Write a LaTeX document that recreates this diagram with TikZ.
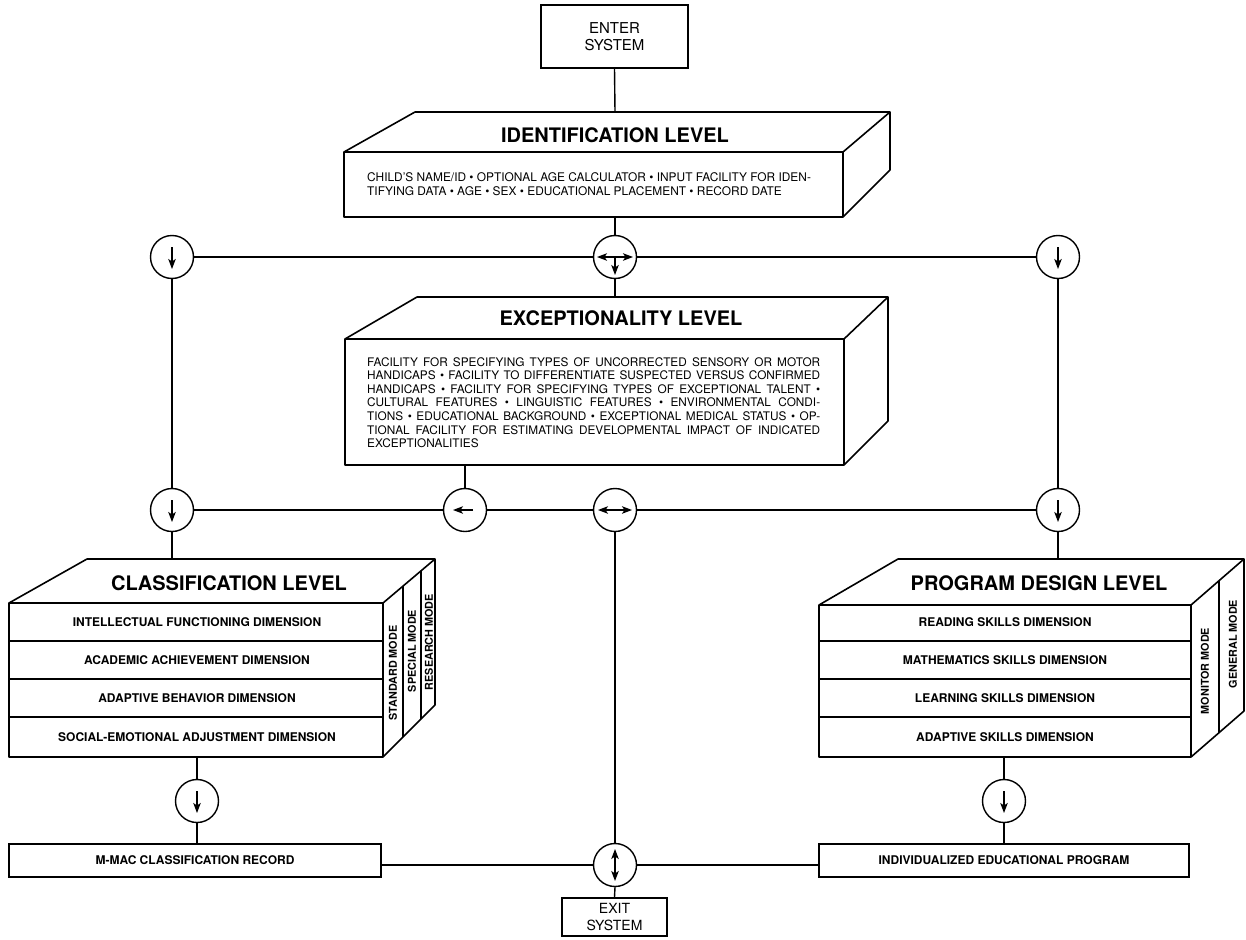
\documentclass[tikz,border=0pt]{standalone}
\usepackage{fontspec}
\setmainfont{TeX Gyre Heros}
\usetikzlibrary{arrows.meta}
\begin{document}
\begin{tikzpicture}[x=1pt,y=-1pt,
  >={Stealth[length=10pt,width=7.5pt,inset=2.5pt]},
  box/.style={draw, line width=1.6pt, line join=round},
  lnk/.style={line width=1.4pt},
  circ/.style={circle, draw, line width=1.4pt, minimum size=43pt, inner sep=0pt},
  arr/.style={line width=1.2pt, ->},
  darr/.style={line width=1.2pt, <->},
  ttl/.style={inner sep=0pt, anchor=base, font=\bfseries\fontsize{20}{24}\selectfont},
  rowtxt/.style={inner sep=0pt, font=\bfseries\fontsize{12}{14}\selectfont},
  modetxt/.style={inner sep=0pt, rotate=90, font=\bfseries\fontsize{10.8}{12}\selectfont},
  sysbox/.style={draw, line width=1.6pt, inner sep=0pt, align=center},
  recbox/.style={draw, line width=2.8pt, inner sep=0pt, font=\bfseries\fontsize{12}{14}\selectfont},
]
\useasboundingbox (0,0) rectangle (1246,939);

% ---------- enter / exit ----------
\node[sysbox, minimum width=147pt, minimum height=63pt, font=\fontsize{15}{17}\selectfont] (enter) at (614.5,36.5) {ENTER\\SYSTEM};
\node[sysbox, minimum width=105pt, minimum height=38pt, font=\fontsize{14}{17}\selectfont] (exit) at (614.5,917) {EXIT\\SYSTEM};

% ---------- identification level ----------
\draw[box] (344,152) -- (415,112) -- (890,112) -- (890,170) -- (843,217) -- (344,217) -- cycle;
\draw[box] (344,152) -- (843,152) -- (890,112);
\draw[box] (843,152) -- (843,217);
\coordinate (idtop) at (615,112);
\coordinate (idbot) at (615,217);
\node[ttl] (idttl) at (615,142) {IDENTIFICATION LEVEL};
\node[inner sep=0pt, anchor=base west] (idtxt) at (367,181) {\parbox[t]{520pt}{\raggedright\fontsize{11.9}{14}\selectfont
CHILD’S NAME/ID \textbullet{} OPTIONAL AGE CALCULATOR \textbullet{} INPUT FACILITY FOR IDEN-\\
TIFYING DATA \textbullet{} AGE \textbullet{} SEX \textbullet{} EDUCATIONAL PLACEMENT \textbullet{} RECORD DATE}};

% ---------- exceptionality level ----------
\draw[box] (345,339) -- (417,297) -- (888,297) -- (888,421) -- (844,465) -- (345,465) -- cycle;
\draw[box] (345,339) -- (844,339) -- (888,297);
\draw[box] (844,339) -- (844,465);
\coordinate (extop) at (615,297);
\coordinate (exbot) at (465,465);
\node[ttl] (exttl) at (621,325) {EXCEPTIONALITY LEVEL};
\node[inner sep=0pt, anchor=base west] (extxt) at (367,366) {\parbox[t]{453pt}{\fontsize{11.8}{13.6}\selectfont
\makebox[\linewidth][s]{FACILITY FOR SPECIFYING TYPES OF UNCORRECTED SENSORY OR MOTOR}\\
\makebox[\linewidth][s]{HANDICAPS \textbullet{} FACILITY TO DIFFERENTIATE SUSPECTED VERSUS CONFIRMED}\\
\makebox[\linewidth][s]{HANDICAPS \textbullet{} FACILITY FOR SPECIFYING TYPES OF EXCEPTIONAL TALENT \textbullet}\\
\makebox[\linewidth][s]{CULTURAL FEATURES \textbullet{} LINGUISTIC FEATURES \textbullet{} ENVIRONMENTAL CONDI-}\\
\makebox[\linewidth][s]{TIONS \textbullet{} EDUCATIONAL BACKGROUND \textbullet{} EXCEPTIONAL MEDICAL STATUS \textbullet{} OP-}\\
\makebox[\linewidth][s]{TIONAL FACILITY FOR ESTIMATING DEVELOPMENTAL IMPACT OF INDICATED}\\
EXCEPTIONALITIES}};

% ---------- classification level ----------
\draw[box] (9,603) -- (87,559) -- (435,559) -- (435,705) -- (383,757) -- (9,757) -- cycle;
\draw[box] (9,603) -- (383,603) -- (435,559);
\draw[box] (383,603) -- (383,757);
\draw[box] (9,641) -- (383,641);
\draw[box] (9,679) -- (383,679);
\draw[box] (9,717) -- (383,717);
\draw[box] (403,586) -- (403,737);
\draw[box] (421,571) -- (421,719);
\coordinate (cltop) at (172,559);
\coordinate (clbot) at (197,757);
\node[ttl] (clttl) at (229,590) {CLASSIFICATION LEVEL};
\node[rowtxt] (cl1) at (197,622) {INTELLECTUAL FUNCTIONING DIMENSION};
\node[rowtxt] (cl2) at (197,660) {ACADEMIC ACHIEVEMENT DIMENSION};
\node[rowtxt] (cl3) at (197,698) {ADAPTIVE BEHAVIOR DIMENSION};
\node[rowtxt] (cl4) at (197,737) {SOCIAL-EMOTIONAL ADJUSTMENT DIMENSION};
\node[modetxt] (clm1) at (393,673) {STANDARD MODE};
\node[modetxt] (clm2) at (412,651) {SPECIAL MODE};
\node[modetxt] (clm3) at (429,642) {RESEARCH MODE};

% ---------- program design level ----------
\draw[box] (819,605) -- (898,559) -- (1244,559) -- (1244,711) -- (1191,757) -- (819,757) -- cycle;
\draw[box] (819,605) -- (1191,605) -- (1244,559);
\draw[box] (1191,605) -- (1191,757);
\draw[box] (819,641) -- (1191,641);
\draw[box] (819,679) -- (1191,679);
\draw[box] (819,717) -- (1191,717);
\draw[box] (1219,581) -- (1219,733);
\coordinate (pdtop) at (1058,559);
\coordinate (pdbot) at (1004,757);
\node[ttl] (pdttl) at (1039,590) {PROGRAM DESIGN LEVEL};
\node[rowtxt] (pd1) at (1005,622) {READING SKILLS DIMENSION};
\node[rowtxt] (pd2) at (1005,660) {MATHEMATICS SKILLS DIMENSION};
\node[rowtxt] (pd3) at (1005,698) {LEARNING SKILLS DIMENSION};
\node[rowtxt] (pd4) at (1005,737) {ADAPTIVE SKILLS DIMENSION};
\node[modetxt] (pdm1) at (1205,671) {MONITOR MODE};
\node[modetxt] (pdm2) at (1233,644) {GENERAL MODE};

% ---------- record boxes ----------
\node[recbox, minimum width=372pt, minimum height=33pt] (mmac) at (195,860.5) {M-MAC CLASSIFICATION RECORD};
\node[recbox, minimum width=370pt, minimum height=33pt] (iep) at (1004,860.5) {INDIVIDUALIZED EDUCATIONAL PROGRAM};

% ---------- junction circles ----------
\node[circ] (cL1) at (172,257) {};
\node[circ] (cT)  at (615,257) {};
\node[circ] (cR1) at (1058,257) {};
\node[circ] (cL2) at (172,510) {};
\node[circ] (cX)  at (465,510) {};
\node[circ] (cM)  at (615,510) {};
\node[circ] (cR2) at (1058,510) {};
\node[circ] (cL3) at (197,801) {};
\node[circ] (cR3) at (1004,801) {};
\node[circ] (cE)  at (615,865) {};

% arrows inside circles
\draw[arr] ([yshift=10pt]cL1.center) -- ([yshift=-12pt]cL1.center);
\draw[arr] ([yshift=10pt]cR1.center) -- ([yshift=-12pt]cR1.center);
\draw[arr] ([yshift=10pt]cL2.center) -- ([yshift=-12pt]cL2.center);
\draw[arr] ([yshift=10pt]cR2.center) -- ([yshift=-12pt]cR2.center);
\draw[arr] ([yshift=10pt]cL3.center) -- ([yshift=-12pt]cL3.center);
\draw[arr] ([yshift=10pt]cR3.center) -- ([yshift=-12pt]cR3.center);
\draw[darr] ([xshift=-18pt]cT.center) -- ([xshift=18pt]cT.center);
\draw[arr] (cT.center) -- ([yshift=-18pt]cT.center);
\draw[arr] ([xshift=8pt]cX.center) -- ([xshift=-12pt]cX.center);
\draw[darr] ([xshift=-17pt]cM.center) -- ([xshift=17pt]cM.center);
\draw[darr] ([yshift=16pt]cE.center) -- ([yshift=-16pt]cE.center);

% ---------- connectors ----------
\draw[lnk] (enter.south) -- (idtop);
\draw[lnk] (idbot) -- (cT.north);
\draw[lnk] (cT.south) -- (extop);
\draw[lnk] (cL1.east) -- (cT.west);
\draw[lnk] (cT.east) -- (cR1.west);
\draw[lnk] (cL1.south) -- (cL2.north);
\draw[lnk] (cR1.south) -- (cR2.north);
\draw[lnk] (exbot) -- (cX.north);
\draw[lnk] (cL2.east) -- (cX.west);
\draw[lnk] (cX.east) -- (cM.west);
\draw[lnk] (cM.east) -- (cR2.west);
\draw[lnk] (cL2.south) -- (cltop);
\draw[lnk] (cR2.south) -- (pdtop);
\draw[lnk] (clbot) -- (cL3.north);
\draw[lnk] (pdbot) -- (cR3.north);
\draw[lnk] (cL3.south) -- (cL3.south |- mmac.north);
\draw[lnk] (cR3.south) -- (cR3.south |- iep.north);
\draw[lnk] (cM.south) -- (cE.north);
\draw[lnk] (cE.west) -- (cE.west -| mmac.east);
\draw[lnk] (cE.east) -- (cE.east -| iep.west);
\draw[lnk] (cE.south) -- (exit.north);
\end{tikzpicture}
\end{document}
